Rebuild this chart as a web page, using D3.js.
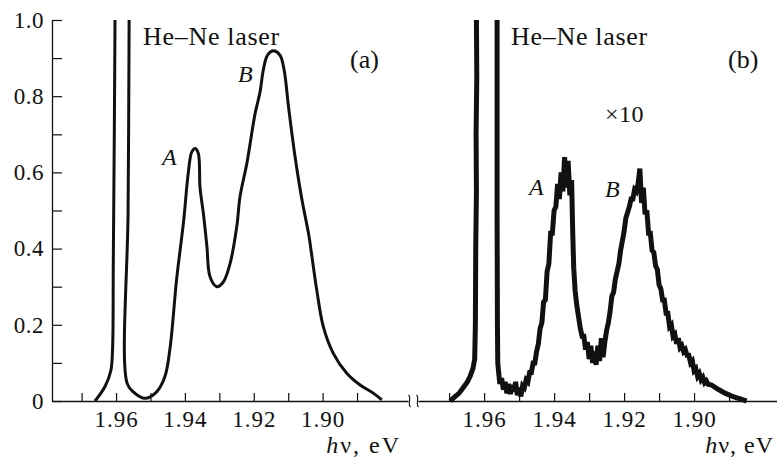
<!DOCTYPE html>
<html><head><meta charset="utf-8">
<script src="https://cdn.jsdelivr.net/npm/d3@7"></script>
<style>
body{margin:0;background:#fff}
svg{display:block}
text{font-family:"Liberation Serif","Tinos","Times New Roman","DejaVu Serif",serif;fill:#111}
</style>
</head><body>
<svg id="c" width="777" height="459"></svg>
<script>
// ---------- data ----------
// Panel (a): photoluminescence spectrum (energy in eV, normalised intensity)
const energyA = [1.9661,1.9632,1.9615,1.9610,1.9608,1.9605,1.9603,1.9601,1.9564,1.9562,1.9565,1.9568,
  1.9550,1.9516,1.9482,1.9458,1.9443,1.9424,1.9404,1.9390,1.9380,1.9370,1.9361,1.9356,1.9346,1.9336,1.9327,
  1.9307,1.9288,1.9269,1.9249,1.9240,1.9220,1.9196,1.9182,1.9172,1.9160,1.9143,1.9124,1.9112,1.9099,1.9080,
  1.9060,1.9041,1.9031,1.9017,1.8998,1.8969,1.8930,1.8891,1.8852,1.8828];
const intensityA = [0.0,0.038,0.08,0.14,0.36,0.71,1.0,1.4,1.4,1.0,0.5,0.047,
  0.024,0.007,0.024,0.064,0.14,0.32,0.47,0.60,0.654,0.663,0.65,0.56,0.49,0.405,0.326,
  0.30,0.313,0.36,0.46,0.536,0.624,0.755,0.81,0.87,0.908,0.919,0.908,0.87,0.772,0.641,
  0.528,0.44,0.379,0.291,0.195,0.125,0.073,0.042,0.02,0.003];

// Panel (b): weak-excitation spectrum (x10), noisy trace
const energyB = [1.9697,1.9685,1.9672,1.9660,1.9648,1.9640,1.9632,1.9627,1.9625,1.9624,1.9622,1.9623,1.9621,1.9622,1.9621,
  1.9563,1.9563,1.9563,1.9562,1.9561,
  1.9558,1.9555,1.9550,1.9545,1.9540,1.9535,1.9530,1.9525,1.9520,1.9515,1.9510,1.9505,1.9500,1.9495,
  1.9490,1.9485,1.9480,1.9475,1.9470,1.9465,1.9460,1.9455,1.9450,1.9445,1.9440,1.9435,1.9430,1.9425,
  1.9420,1.9415,1.9410,1.9405,1.9400,1.9395,1.9390,1.9385,1.9380,1.9375,1.9370,1.9365,1.9360,1.9355,
  1.9350,1.9347,1.9344,1.9340,1.9335,1.9330,1.9325,1.9320,1.9315,1.9310,1.9305,1.9300,1.9295,1.9290,
  1.9285,1.9280,1.9275,1.9270,1.9265,1.9260,1.9255,1.9250,1.9245,1.9240,1.9235,1.9230,1.9225,1.9220,
  1.9215,1.9210,1.9205,1.9200,1.9195,1.9190,1.9185,1.9180,1.9175,1.9170,1.9165,1.9160,1.9155,1.9150,
  1.9145,1.9140,1.9135,1.9130,1.9125,1.9120,1.9115,1.9110,1.9105,1.9100,1.9095,1.9090,1.9085,1.9080,
  1.9075,1.9070,1.9065,1.9060,1.9055,1.9050,1.9045,1.9040,1.9035,1.9030,1.9025,1.9020,1.9015,1.9010,
  1.9005,1.9000,1.8995,1.8990,1.8985,1.8980,1.8975,1.8970,1.8965,1.8960,1.8950,1.8940,1.8930,1.8920,
  1.8910,1.8900,1.8890,1.8880,1.8870,1.8860,1.8850];
const intensityB = [0.0,0.01,0.02,0.035,0.05,0.065,0.085,0.11,0.2,0.4,0.55,0.7,0.85,1.0,1.3,
  1.3,1.0,0.5,0.2,0.1,
  0.07,0.045,0.06,0.03,0.05,0.02,0.045,0.018,0.042,0.025,0.05,0.015,0.035,0.012,
  0.04,0.035,0.055,0.05,0.075,0.075,0.1,0.1,0.13,0.15,0.19,0.205,0.26,0.265,
  0.34,0.36,0.44,0.44,0.50,0.51,0.57,0.53,0.60,0.55,0.64,0.56,0.63,0.54,
  0.58,0.45,0.35,0.29,0.25,0.22,0.19,0.17,0.17,0.135,0.155,0.11,0.145,0.10,
  0.13,0.095,0.145,0.105,0.165,0.115,0.155,0.185,0.205,0.235,0.275,0.285,0.32,0.34,
  0.36,0.395,0.42,0.445,0.48,0.495,0.51,0.53,0.53,0.555,0.55,0.57,0.61,0.52,
  0.56,0.49,0.50,0.44,0.44,0.395,0.39,0.355,0.345,0.305,0.295,0.265,0.265,0.23,
  0.23,0.195,0.20,0.17,0.175,0.15,0.165,0.14,0.145,0.13,0.135,0.12,0.12,0.10,
  0.105,0.08,0.085,0.065,0.072,0.056,0.062,0.048,0.053,0.044,0.042,0.036,0.03,0.025,
  0.02,0.016,0.012,0.009,0.006,0.003,0.0];

const xTickValues = [1.97,1.96,1.95,1.94,1.93,1.92,1.91,1.90,1.89];
const xTickLabels = ["","1.96","","1.94","","1.92","","1.90",""];
const yTickValues = [0,0.1,0.2,0.3,0.4,0.5,0.6,0.7,0.8,0.9,1.0];
const yTickLabels = ["0","","0.2","","0.4","","0.6","","0.8","","1.0"];
const xDomainA = [1.9786, 1.8752];
const xDomainB = [1.9789, 1.8763];
const yDomain = [0, 1];

// ---------- drawing ----------
const svg = d3.select("#c");
const FONT = "'Liberation Serif', Tinos, 'Times New Roman', 'DejaVu Serif', serif";
const y = d3.scaleLinear().domain(yDomain).range([401, 20]);
const xa = d3.scaleLinear().domain(xDomainA).range([52, 408]);
const xb = d3.scaleLinear().domain(xDomainB).range([418, 777]);

const defs = svg.append("defs");
defs.append("clipPath").attr("id","clipA").append("rect")
  .attr("x",52).attr("y",y(1)).attr("width",356).attr("height",y(0)-y(1)+4);
defs.append("clipPath").attr("id","clipB").append("rect")
  .attr("x",418).attr("y",y(1)).attr("width",359).attr("height",y(0)-y(1)+4);

function styleAxis(g, size, spacing){
  g.attr("font-family", FONT).attr("font-size", size);
  g.selectAll("path.domain").attr("stroke","#111").attr("stroke-width",1.3);
  g.selectAll(".tick line").attr("stroke","#111").attr("stroke-width",1.2);
  g.selectAll(".tick text").attr("fill","#111").attr("letter-spacing",spacing);
}

// y axis
const yAxis = d3.axisLeft(y).tickValues(yTickValues)
  .tickFormat((d,i)=>yTickLabels[i]).tickSizeInner(-10).tickSizeOuter(0).tickPadding(8);
svg.append("g").attr("transform","translate(52,0)").call(yAxis).call(g=>styleAxis(g,23,0.5));

// x axes
const xAxisA = d3.axisBottom(xa).tickValues(xTickValues)
  .tickFormat((d,i)=>xTickLabels[i]).tickSizeInner(-8).tickSizeOuter(0).tickPadding(10);
svg.append("g").attr("transform","translate(0,401)").call(xAxisA).call(g=>styleAxis(g,23,1));
const xAxisB = d3.axisBottom(xb).tickValues(xTickValues)
  .tickFormat((d,i)=>xTickLabels[i]).tickSizeInner(-8).tickSizeOuter(0).tickPadding(10);
svg.append("g").attr("transform","translate(0,401)").call(xAxisB).call(g=>styleAxis(g,23,1));

// axis break marks
const brk = svg.append("g").attr("fill","none").attr("stroke","#111").attr("stroke-width",1.1);
[xa.range()[1]+1.5, xb.range()[0]-0.5].forEach(bx=>{
  brk.append("path").attr("d",`M${bx-1},${395} C${bx+2.5},${398} ${bx-2.5},${404} ${bx+1},${407}`);
});

// curves
const lineA = d3.line().x(d=>xa(d[0])).y(d=>y(d[1])).curve(d3.curveCatmullRom.alpha(0.5));
const lineB = d3.line().x(d=>xb(d[0])).y(d=>y(d[1])).curve(d3.curveLinear);
svg.append("path").attr("clip-path","url(#clipA)")
  .datum(energyA.map((e,i)=>[e,intensityA[i]]))
  .attr("d",lineA).attr("fill","none").attr("stroke","#111").attr("stroke-width",3)
  .attr("stroke-linejoin","round");
svg.append("path").attr("clip-path","url(#clipB)")
  .datum(energyB.map((e,i)=>[e,intensityB[i]]))
  .attr("d",lineB).attr("fill","none").attr("stroke","#111").attr("stroke-width",5)
  .attr("stroke-linejoin","miter").attr("stroke-miterlimit",3);

// annotations
function txt(x,yy,s,size,opts={}){
  const t = svg.append("text").attr("x",x).attr("y",yy).attr("font-size",size).attr("font-family",FONT);
  if(opts.anchor) t.attr("text-anchor",opts.anchor);
  if(opts.italic) t.attr("font-style","italic");
  if(opts.ls) t.attr("letter-spacing",opts.ls);
  t.text(s);
  return t;
}
txt(143,45,"He\u2013Ne laser",26,{ls:0.7});
txt(350,68,"(a)",26);
txt(238,82,"B",24,{italic:true});
txt(162,165,"A",24,{italic:true});
txt(511,45,"He\u2013Ne laser",26,{ls:0.7});
txt(728,68,"(b)",26);
txt(605,122,"\u00d710",24,{ls:0.5});
txt(529,195,"A",24,{italic:true});
txt(605,197,"B",24,{italic:true});

function hvLabel(x,anchor,ls){
  const t = svg.append("text").attr("x",x).attr("y",453).attr("font-size",24)
    .attr("font-family",FONT).attr("text-anchor",anchor).attr("letter-spacing",ls);
  t.append("tspan").attr("font-style","italic").text("h");
  t.append("tspan").text("\u03bd, eV");
}
hvLabel(401,"end",2);
hvLabel(774,"end",1);
</script>
</body></html>
